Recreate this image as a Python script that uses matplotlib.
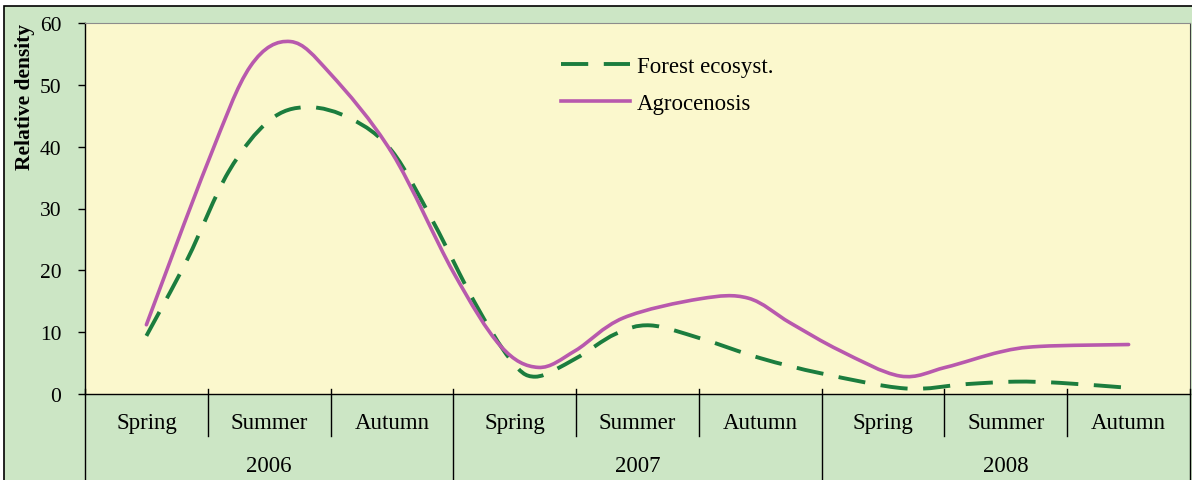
import matplotlib
matplotlib.use("Agg")
import matplotlib.pyplot as plt
from matplotlib.path import Path
from matplotlib.patches import PathPatch, Rectangle
from matplotlib.lines import Line2D
import matplotlib.transforms as mtransforms

plt.rcParams['font.family'] = ['Liberation Serif', 'DejaVu Serif']

# ---- data (x in season units: 0 = Spring 2006 ... 8 = Autumn 2008) ----
seasons = ["Spring", "Summer", "Autumn"] * 3
years = ["2006", "2007", "2008"]

forest_x = [0.0, 0.334, 0.668, 1.0, 1.311, 1.669, 2.0, 2.337, 2.671, 2.964, 3.168,
            3.493, 3.819, 4.104, 4.511, 5.0, 5.505, 6.181, 6.678, 7.077, 7.443, 8.0]
forest_y = [9.4, 21.8, 35.9, 44.2, 46.4, 44.5, 39.3, 27.8, 14.9, 5.6, 2.8,
            5.7, 9.7, 11.1, 9.0, 5.8, 3.3, 0.9, 1.6, 2.0, 1.8, 1.0]

agro_x = [0.0, 0.505, 0.847, 1.173, 1.498, 2.0, 2.5, 2.883, 3.192, 3.493, 3.884,
          4.511, 4.902, 5.244, 5.651, 6.140, 6.507, 6.954, 7.280, 8.0]
agro_y = [11.2, 37.7, 53.0, 57.0, 51.8, 39.0, 19.7, 7.8, 4.3, 7.0, 12.3,
          15.4, 15.5, 11.5, 7.0, 2.9, 4.3, 6.8, 7.7, 8.0]

FOREST_C = '#1B7D3E'
AGRO_C = '#B859AD'
PLOT_BG = '#FBF8CD'
OUTER_BG = '#CCE6C5'


def smooth_path(xs, ys):
    """Excel-like smoothed line: cubic Bezier through the points."""
    pts = list(zip(xs, ys))
    n = len(pts)
    verts = [pts[0]]
    codes = [Path.MOVETO]
    for i in range(n - 1):
        p0 = pts[i - 1] if i > 0 else pts[i]
        p1 = pts[i]
        p2 = pts[i + 1]
        p3 = pts[i + 2] if i + 2 < n else pts[i + 1]
        c1 = (p1[0] + (p2[0] - p0[0]) / 6.0, p1[1] + (p2[1] - p0[1]) / 6.0)
        c2 = (p2[0] - (p3[0] - p1[0]) / 6.0, p2[1] - (p3[1] - p1[1]) / 6.0)
        verts += [c1, c2, p2]
        codes += [Path.CURVE4] * 3
    return Path(verts, codes)


W, H = 1192, 481
fig = plt.figure(figsize=(W / 100, H / 100), dpi=100)
fig.patch.set_facecolor('white')
fig.patches.append(Rectangle((4 / W, -0.01), 1.02, 1 - 7 / H + 0.01,
                             transform=fig.transFigure, facecolor=OUTER_BG,
                             edgecolor='black', linewidth=1.2, zorder=-10))

ax = fig.add_axes([85 / W, 86 / H, 1105 / W, 371 / H])
ax.set_facecolor(PLOT_BG)
ax.set_xlim(-0.5, 8.5)
ax.set_ylim(0, 60)

dash = (0, (7, 4))
ax.add_patch(PathPatch(smooth_path(forest_x, forest_y), fill=False,
                       edgecolor=FOREST_C, linewidth=2.8, linestyle=dash,
                       capstyle='butt', zorder=3))
ax.add_patch(PathPatch(smooth_path(agro_x, agro_y), fill=False,
                       edgecolor=AGRO_C, linewidth=2.6, zorder=4,
                       capstyle='round', joinstyle='round'))

# axes styling
ax.set_yticks(range(0, 61, 10))
ax.tick_params(axis='y', direction='out', length=5, width=1, pad=12,
               labelsize=15.5, colors='black')
ax.set_xticks([])
for s in ['left', 'bottom']:
    ax.spines[s].set_color('black')
    ax.spines[s].set_linewidth(1.0)
ax.spines['top'].set_color('#8c8c8c')
ax.spines['right'].set_color('#404040')

# category axis: boundaries, season & year labels
trans = mtransforms.blended_transform_factory(ax.transData, ax.transAxes)
for k in range(10):
    xb = -0.5 + k
    y1 = -0.235 if k % 3 == 0 else -0.113
    ax.plot([xb, xb], [0.013, y1], transform=trans, color='black',
            lw=1.0, clip_on=False, zorder=5)
for i, s in enumerate(seasons):
    ax.text(i, -0.076, s, transform=trans, ha='center', va='center',
            fontsize=16.5)
for j, yname in enumerate(years):
    ax.text(1 + 3 * j, -0.194, yname, transform=trans, ha='center',
            va='center', fontsize=16.5)

fig.text(25 / W, 1 - 97 / H, 'Relative density', rotation=90, ha='center',
         va='center', fontweight='bold', fontsize=15.5)

handles = [Line2D([], [], color=FOREST_C, lw=2.8, linestyle=dash),
           Line2D([], [], color=AGRO_C, lw=2.6)]
ax.legend(handles, ['Forest ecosyst.', 'Agrocenosis'], loc='upper left',
          bbox_to_anchor=(0.431, 0.912), frameon=False, fontsize=16.5,
          handlelength=3.0, handletextpad=0.3, labelspacing=0.72,
          borderpad=0, borderaxespad=0)

fig.savefig('out.png', dpi=100, facecolor=fig.get_facecolor())
